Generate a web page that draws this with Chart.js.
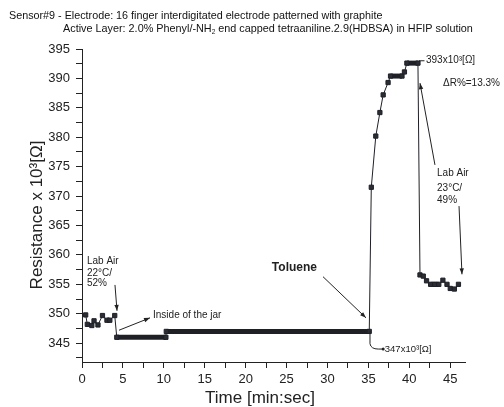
<!DOCTYPE html>
<html>
<head>
<meta charset="utf-8">
<script src="https://cdn.jsdelivr.net/npm/chart.js@4/dist/chart.umd.min.js"></script>
<style>
  html, body { margin: 0; padding: 0; background: #fff; }
  canvas { display: block; }
</style>
</head>
<body>
<canvas id="sensorChart" width="504" height="407"></canvas>
<script>
// readings: time [min] and resistance [x10^3 ohm]
var timeMin = [0.45, 0.65, 1.2, 1.47, 1.95, 2.5, 3.05, 3.4, 4.0, 4.25,
               10.25, 10.3, 35.1, 35.35, 35.9, 36.4, 36.8, 37.4, 37.7, 39.1,
               39.4, 39.7, 41.05, 41.3, 41.7, 42.1, 42.6, 43.1, 43.6, 44.1,
               44.6, 45.0, 45.5, 46.0];
var resistance = [349.8, 348.2, 348.0, 348.8, 348.1, 349.7, 348.9, 348.9, 349.7, 346,
                  346, 347, 347, 371.5, 380.2, 384.2, 387.2, 389.3, 390.4, 390.4,
                  391.1, 392.6, 392.6, 356.6, 356.4, 355.6, 355.0, 355.0, 355.0, 355.7,
                  355.0, 354.3, 354.2, 355.0];

var xTickLabels = [0, 5, 10, 15, 20, 25, 30, 35, 40, 45];
var yTickLabels = [345, 350, 355, 360, 365, 370, 375, 380, 385, 390, 395];

var ink = '#222';
var ff = "'Liberation Sans', Arial, sans-serif";
Chart.defaults.font.family = ff;

var points = [];
for (var i = 0; i < timeMin.length; i++) {
    points.push({x: timeMin[i], y: resistance[i]});
}

// minor ticks every 2.5, labels only on the listed values
function stepTicks(scale) {
    var t = [];
    for (var v = Math.ceil(scale.min / 2.5) * 2.5; v <= scale.max + 1e-6; v += 2.5) {
        t.push({value: v});
    }
    scale.ticks = t;
}

function arrow(ctx, x1, y1, x2, y2) {
    ctx.beginPath();
    ctx.moveTo(x1, y1);
    ctx.lineTo(x2, y2);
    ctx.stroke();
    var a = Math.atan2(y2 - y1, x2 - x1), L = 6, W = 2.2;
    ctx.beginPath();
    ctx.moveTo(x2, y2);
    ctx.lineTo(x2 - L * Math.cos(a) + W * Math.sin(a), y2 - L * Math.sin(a) - W * Math.cos(a));
    ctx.lineTo(x2 - L * Math.cos(a) - W * Math.sin(a), y2 - L * Math.sin(a) + W * Math.cos(a));
    ctx.closePath();
    ctx.fill();
}

// fit a font size so the line spans the given width
function fitSize(ctx, parts, width) {
    var w = 0;
    for (var k = 0; k < parts.length; k++) {
        ctx.font = (parts[k].sub ? 6 : 10) + 'px ' + ff;
        w += ctx.measureText(parts[k].t).width;
    }
    return 10 * width / w;
}

function drawParts(ctx, parts, x, y, width) {
    var s = fitSize(ctx, parts, width);
    for (var k = 0; k < parts.length; k++) {
        var sub = parts[k].sub;
        ctx.font = (sub ? s * 0.6 : s) + 'px ' + ff;
        ctx.fillText(parts[k].t, x, sub ? y + 3 : y);
        x += ctx.measureText(parts[k].t).width;
    }
}

var notes = {
    id: 'notes',
    afterDraw: function (chart) {
        var ctx = chart.ctx, xs = chart.scales.x, ys = chart.scales.y;
        function px(v) { return xs.getPixelForValue(v); }
        function py(v) { return ys.getPixelForValue(v); }

        ctx.save();
        ctx.fillStyle = ink;
        ctx.strokeStyle = ink;
        ctx.lineWidth = 1;
        ctx.textBaseline = 'middle';
        ctx.textAlign = 'left';

        // heading
        ctx.fillStyle = '#111';
        drawParts(ctx, [{t: 'Sensor#9 - Electrode: 16 finger interdigitated electrode patterned with graphite'}], 9, 16, 374);
        drawParts(ctx, [{t: 'Active Layer: 2.0% Phenyl/-NH'}, {t: '2', sub: true},
                        {t: ' end capped tetraaniline.2.9(HDBSA) in HFIP solution'}], 63, 29, 410);
        ctx.fillStyle = ink;

        // axis titles
        ctx.font = '17px ' + ff;
        ctx.textAlign = 'center';
        ctx.fillText('Time [min:sec]', 260, 398);
        ctx.save();
        ctx.translate(37, 215);
        ctx.rotate(-Math.PI / 2);
        ctx.fillText('Resistance x 10\u00B3[\u03A9]', 0, 0);
        ctx.restore();
        ctx.textAlign = 'left';

        // left lab air
        ctx.font = '10px ' + ff;
        ctx.fillText('Lab Air', px(0.61), py(359.0));
        ctx.fillText('22\u00B0C/', px(0.61), py(356.9));
        ctx.fillText('52%', px(0.61), py(355.2));
        arrow(ctx, px(4.03), py(354.9), px(4.28), py(350.5));

        // inside of the jar
        ctx.fillText('Inside of the jar', px(8.68), py(349.8));
        arrow(ctx, px(4.52), py(347.2), px(8.31), py(349.3));

        // toluene
        ctx.font = 'bold 12px ' + ff;
        ctx.fillText('Toluene', px(23.2), py(357.9));
        arrow(ctx, px(29.45), py(356.3), px(34.7), py(349.3));

        // 347 label with curved leader
        ctx.beginPath();
        ctx.moveTo(px(35.19), py(347.1));
        ctx.lineTo(px(35.19), py(344.9));
        ctx.quadraticCurveTo(px(35.3), py(344.0), px(36.2), py(344.0));
        ctx.lineTo(px(36.8), py(344.0));
        ctx.stroke();
        ctx.beginPath();
        ctx.arc(px(36.8), py(344.0), 1.5, 0, Math.PI * 2);
        ctx.fill();
        ctx.font = '9.5px ' + ff;
        ctx.fillText('347x10\u00B3[\u03A9]', px(37.0), py(344.0));

        // 393 label
        ctx.beginPath();
        ctx.moveTo(px(41.18), py(393.0));
        ctx.lineTo(px(41.85), py(393.0));
        ctx.stroke();
        ctx.font = '10px ' + ff;
        ctx.fillText('393x10\u00B3[\u03A9]', px(42.03), py(393.1));
        ctx.fillText('\u0394R%=13.3%', px(44.11), py(389.1));

        // right lab air
        ctx.fillText('Lab Air', px(43.38), py(373.9));
        ctx.fillText('23\u00B0C/', px(43.38), py(371.4));
        ctx.fillText('49%', px(43.38), py(369.3));
        arrow(ctx, px(43.13), py(375.3), px(41.3), py(389.2));
        arrow(ctx, px(46.07), py(368.3), px(46.43), py(356.7));

        ctx.restore();
    }
};

new Chart(document.getElementById('sensorChart'), {
    type: 'scatter',
    data: {
        datasets: [{
            label: 'Resistance',
            data: points,
            showLine: true,
            borderColor: '#1e2026',
            backgroundColor: '#2a2d35',
            borderWidth: 1,
            pointStyle: 'rect',
            pointRadius: 3,
            pointBorderWidth: 1,
            pointBorderColor: '#1e2026',
            segment: {
                borderWidth: function (c) {
                    return Math.abs(c.p0.parsed.y - c.p1.parsed.y) < 0.05 ? 5 : 1;
                }
            }
        }]
    },
    options: {
        responsive: false,
        animation: false,
        events: [],
        layout: {padding: {top: 49, right: 39, left: 0, bottom: 0}},
        plugins: {legend: {display: false}, tooltip: {enabled: false}},
        scales: {
            x: {
                type: 'linear',
                min: 0,
                max: 46.8,
                afterBuildTicks: stepTicks,
                afterFit: function (s) { s.height = 45; },
                grid: {drawOnChartArea: false, tickLength: 6, color: ink},
                border: {color: ink, width: 1},
                ticks: {
                    color: ink, padding: 4, font: {size: 13}, maxRotation: 0, autoSkip: false,
                    callback: function (v) { return xTickLabels.indexOf(v) >= 0 ? v : ''; }
                }
            },
            y: {
                min: 341.8,
                max: 395,
                afterBuildTicks: stepTicks,
                afterFit: function (s) { s.width = 82; },
                grid: {drawOnChartArea: false, tickLength: 6, color: ink},
                border: {color: ink, width: 1},
                ticks: {
                    color: ink, padding: 6, font: {size: 13}, autoSkip: false,
                    callback: function (v) { return yTickLabels.indexOf(v) >= 0 ? v : ''; }
                }
            }
        }
    },
    plugins: [notes]
});
</script>
</body>
</html>
